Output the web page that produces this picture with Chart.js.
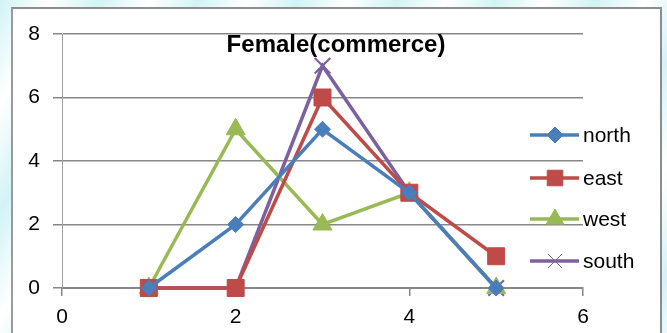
<!DOCTYPE html>
<html>
<head>
<meta charset="utf-8">
<script src="https://cdn.jsdelivr.net/npm/chart.js@4/dist/chart.umd.min.js"></script>
<style>
  html, body { margin: 0; padding: 0; }
  body {
    width: 667px; height: 333px; overflow: hidden; position: relative;
    background: repeating-linear-gradient(115deg, #d2f3f6 0px, #ffffff 45px, #d2f3f6 90px);
  }
  #frame {
    position: absolute; left: 11px; top: 7px; width: 647px; height: 340px;
    background: #ffffff; border: 2px solid #8c8c8c; border-left-color: #9a9a9a;
  }
  #wrap { position: absolute; left: 0; top: 0; width: 667px; height: 333px; }
</style>
</head>
<body>
<div id="frame"></div>
<div id="wrap"><canvas id="c" width="667" height="333"></canvas></div>
<script>
// ---- data ----
const titleText = 'Female(commerce)';
const xValues = [1, 2, 3, 4, 5];
const seriesNames = ['north', 'east', 'west', 'south'];
const north = [0, 2, 5, 3, 0];
const east  = [0, 0, 6, 3, 1];
const west  = [0, 5, 2, 3, 0];
const south = [0, 0, 7, 3, 0];
const xTicks = [0, 2, 4, 6];
const yTicks = [0, 2, 4, 6, 8];

// ---- styles ----
const colors = ['#4a7ebb', '#be4b48', '#98b954', '#7d60a0'];
const pointStyles = ['rectRot', 'rect', 'triangle', 'crossRot'];
const pointRadii = [8, 12, 11, 11];
const pointBorders = [1, 1, 1, 2.2];
const FONT = '"Liberation Sans", Arial, sans-serif';

const seriesValues = [north, east, west, south];
const datasets = seriesNames.map((name, i) => ({
  label: name,
  data: xValues.map((x, j) => ({ x: x, y: seriesValues[i][j] })),
  showLine: true,
  borderColor: colors[i],
  backgroundColor: colors[i],
  borderWidth: 3.5,
  pointStyle: pointStyles[i],
  pointRadius: pointRadii[i],
  pointBorderWidth: pointBorders[i],
  pointBackgroundColor: colors[i],
  pointBorderColor: colors[i],
  tension: 0,
  clip: false
}));

function drawMarker(ctx, style, x, y, r, color, bw) {
  ctx.save();
  ctx.fillStyle = color; ctx.strokeStyle = color; ctx.lineWidth = bw;
  ctx.beginPath();
  if (style === 'rectRot') {
    ctx.moveTo(x, y - r); ctx.lineTo(x + r, y); ctx.lineTo(x, y + r); ctx.lineTo(x - r, y); ctx.closePath();
    ctx.fill(); ctx.stroke();
  } else if (style === 'rect') {
    const s = r * Math.SQRT1_2;
    ctx.rect(x - s, y - s, 2 * s, 2 * s); ctx.fill(); ctx.stroke();
  } else if (style === 'triangle') {
    for (let k = 0; k < 3; k++) {
      const a = k * 2 * Math.PI / 3;
      const px = x + Math.sin(a) * r, py = y - Math.cos(a) * r;
      if (k === 0) ctx.moveTo(px, py); else ctx.lineTo(px, py);
    }
    ctx.closePath(); ctx.fill(); ctx.stroke();
  } else if (style === 'crossRot') {
    const s = r * Math.SQRT1_2;
    ctx.moveTo(x - s, y - s); ctx.lineTo(x + s, y + s);
    ctx.moveTo(x + s, y - s); ctx.lineTo(x - s, y + s);
    ctx.stroke();
  }
  ctx.restore();
}

const overlayPlugin = {
  id: 'overlay',
  afterDraw(chart) {
    const ctx = chart.ctx;
    ctx.save();
    // title
    ctx.fillStyle = '#000';
    ctx.font = 'bold 24px ' + FONT;
    ctx.textAlign = 'center';
    ctx.textBaseline = 'middle';
    ctx.fillText(titleText, 336, 45);
    // legend
    const ys = [135, 178, 219, 261];
    const legendRadii = [8, 11, 10, 10];
    const legendBw = [1, 1, 1, 1];
    ctx.font = '21px ' + FONT;
    ctx.textAlign = 'left';
    seriesNames.forEach((name, i) => {
      const y = ys[i];
      ctx.strokeStyle = colors[i];
      ctx.lineWidth = 3.5;
      ctx.beginPath(); ctx.moveTo(530, y); ctx.lineTo(579, y); ctx.stroke();
      drawMarker(ctx, pointStyles[i], 555, y, legendRadii[i], colors[i], legendBw[i]);
      ctx.fillStyle = '#000';
      ctx.fillText(name, 583, y + 1);
    });
    ctx.restore();
  }
};

new Chart(document.getElementById('c'), {
  type: 'scatter',
  data: { datasets: datasets },
  plugins: [overlayPlugin],
  options: {
    responsive: false,
    animation: false,
    layout: { padding: { left: 12, top: 34, right: 84, bottom: 1 } },
    plugins: { legend: { display: false }, title: { display: false }, tooltip: { enabled: false } },
    scales: {
      x: {
        type: 'linear', min: xTicks[0], max: xTicks[xTicks.length - 1],
        afterBuildTicks(scale) { scale.ticks = xTicks.map(v => ({ value: v })); },
        afterFit(scale) { scale.height = 44; },
        grid: { drawOnChartArea: false, drawTicks: true, tickLength: 8, color: '#868686', lineWidth: 1.5 },
        border: { display: true, color: '#868686', width: 2 },
        ticks: { color: '#000', font: { family: FONT, size: 21 }, padding: 9, maxRotation: 0 }
      },
      y: {
        type: 'linear', min: yTicks[0], max: yTicks[yTicks.length - 1],
        afterBuildTicks(scale) { scale.ticks = yTicks.map(v => ({ value: v })); },
        afterFit(scale) { scale.width = 50; },
        grid: { drawOnChartArea: true, drawTicks: true, tickLength: 9, color: '#878787', lineWidth: 1.5 },
        border: { display: true, color: '#a0a0a0', width: 1 },
        ticks: { color: '#000', font: { family: FONT, size: 21 }, padding: 13 }
      }
    }
  }
});
</script>
</body>
</html>
